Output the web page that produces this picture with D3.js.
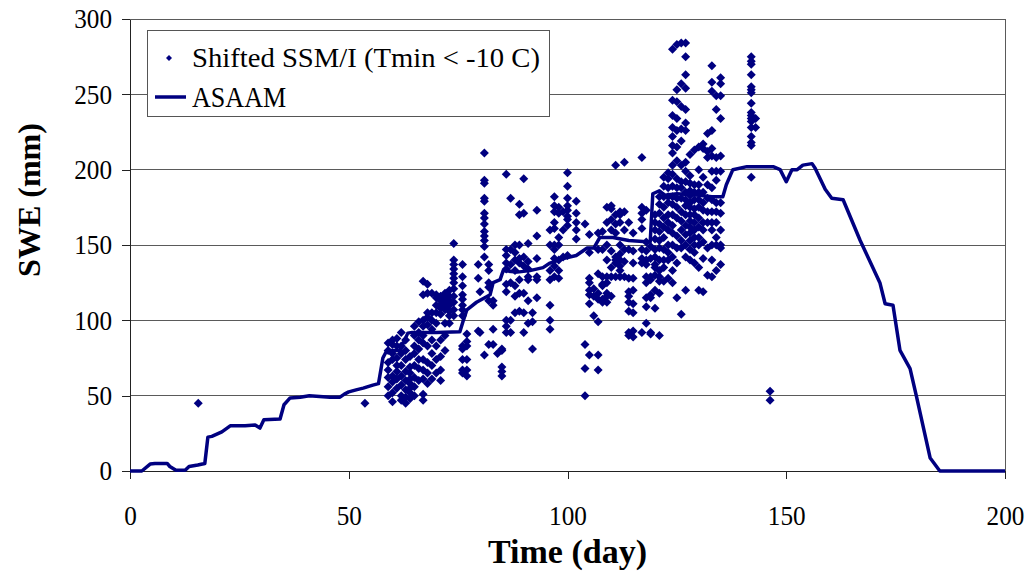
<!DOCTYPE html>
<html><head><meta charset="utf-8">
<script src="https://cdn.jsdelivr.net/npm/d3@7"></script>
<style>body{margin:0;background:#fff}svg{display:block}</style>
</head><body><svg id="c" width="1033" height="578"></svg>
<script>
const xTicks=[0,50,100,150,200];
const yTicks=[0,50,100,150,200,250,300];
const xTitle="Time (day)", yTitle="SWE (mm)";
const legendLabels=["Shifted SSM/I (Tmin < -10  C)","ASAAM"];

const asaamDays=[0,2.7,4.6,5.7,8.5,9.1,10.5,12.6,13.5,15.5,17.1,17.8,18.7,21,22.9,26.3,28.6,29.7,30.6,34.3,35.2,36.6,38.9,41,45.7,48,49,50,51.9,53.3,55.5,56.8,57.8,58.7,61.7,63.5,64.5,70,75.4,76.2,77,79.2,81.5,82.3,83,84.6,85.3,88.5,91.4,94.4,96,99,102,104.5,106,107.4,110.4,114,118.9,119.5,121,122.3,125,130,133,135.5,136.3,137.8,141,147,148.6,150,151.3,152.5,153.8,155.9,156.6,158.9,160.4,163,166.9,171.4,172.6,174.4,176,178.3,179.8,182.9,185.1,200];
const asaamSwe=[0,0,4.6,5,5,3,0.5,0.5,3,4,5,22.5,23,26,30,30,30.5,28.5,34,34.5,44,48.5,49,50,49,49,51,52.5,54,55,57,58,75,80,80,91.5,92,92,92.4,100,107,112,115.7,117,125,127,133,132,133,135,138,141,143,148,148,155,155,153,152,184,186,183,184,183,182,182,190,200,202,202,200,192,200,200,203,204,201,187,181,180,153,125,111,110,80,68,49,8.6,0,0];

const ssmiDays=[15.6,53.7,59,60,61,62,63,64,65,66,67,68,69,70,71,72,73,74,76,77,79.6,80,81,82,83,84,85,86,87,88,89,90,91,92,93,96,97,98,99,100,102,104,105,106,107,108,109,110,111,112,113,114,115,117,118,119,120,121,122,123,124,125,126,127,128,129,130,131,132,133,134,135,142,143,146.3];
const ssmiSwe=[
[45],[45],
[50,56,62,67,72,80,85],
[46,52,59,63,74,78,84,87],
[55,61,66,70,75,83,88],
[47,50,57,63,70,78,83,92],
[45,49,54,60,66,74,80,87],
[48,52,55,58,61,65,69,76],
[50,56,62,70,78,83,90,96],
[60,68,74,81,87,92,99],
[47,51,61,67,74,85,90,96,100,117,126],
[58,65,72,83,97,102,105,118,124],
[61,70,78,87,94,100,105,118],
[65,74,83,98,105,110,115,117],
[60,67,76,87,104,108,110,113,116],
[80,90,98,107,109,112,114,116,118],
[98,103,106,110,113,116,120],
[103,107,112,116,121,125,128,131,134,137,140,151],
[65,67,74,81,83,103,107,110,114,117,123,129,137],
[63,67,74,83,86,91],
[93,128,137],
[92,119],
[77,142,149,153,156,159,164,168,171,179,181,191,193,211],
[84,113,122,125,133,137],
[84,94,110,113],
[78],
[63,66,69,80,81],
[92,96,100,119,124,134,138,143,147,197],
[92,100,125,137,147,181],
[105,116,123,133,140,145,150],
[106,118,127,138,141,150,170,177],
[92,105,118,136,142,171,194],
[98,113,127,129,134,139,151],
[81,99,105],
[115,127,129,141,156,173],
[94,100,110,127,133,150,160],
[129,136,141,147,150,161,165,172,176,182],
[128,133,140,150,155,171,175],
[142,160,172],
[143,163,167,169,173,176,181,189,198],
[154,160,165,171,179],
[50,68,84,164],
[77,111,117,120,125,128,145,157],
[103,116,121],
[67,77,99,114,118,131,147,158],
[112,114,123,124,129,147,159],
[112,116,118,125,129,140,150,165,175],
[116,129,135,146,160,167,174,176],
[129,138,140,142,158,164,170,203],
[129,133,136,140,144,150,165,170,172],
[129,139,147,160,172,205],
[90,92,106,112,116,119,128,147,165],
[89,93,105,111,120,128,138,146,158],
[92,138,141,147,161,167,171,175,208],
[98,109,115,125,129,137,140,146,152,173],
[91,92,115,117,127,129,141,149],
[108,120,130,135,137,142,147,154,160,165,170],
[90,118,126,129,133,140,148,153,159,164,171,177,182],
[126,135,140,147,155,162,168,175,182,189,195],
[128,140,145,150,160,165,170,178,182,188,194,198],
[125,133,142,150,158,163,170,177,182,189,197,203,211,216,222,228,236,246,280],
[115,138,148,156,168,175,181,188,194,206,215,226,234,245,253,283],
[104,148,153,160,166,172,181,188,192,203,219,227,242,257,284],
[120,142,150,157,163,170,176,180,185,192,199,205,226,231,240,254,263,275,284],
[140,147,153,158,162,166,170,175,178,183,186,191,196,210],
[138,145,150,155,160,165,170,174,180,185,190,213],
[120,135,150,155,162,168,175,180,185,190,200,215],
[119,141,152,160,165,173,178,185,195,214,217],
[130,148,165,172,181,190,208,212,224],
[129,140,150,160,165,172,180,188,199,209,214,226,252,258,269],
[133,150,155,165,172,178,193,199,208,240,249],
[137,148,150,160,171,178,199,209,234,249,257,261],
[195,216,218,222,228,232,234,236,238,244,251,253,255,263,270,272,275],
[228,234],
[47,53]
];

const svg=d3.select("#c");
const x=d3.scaleLinear().domain([0,200]).range([130,1005]);
const y=d3.scaleLinear().domain([0,300]).range([471,19]);
const navy="#000080";
const SX=0.9;
const serif="'Liberation Serif', 'Times New Roman', serif";

// gridlines
svg.append("g").attr("shape-rendering","crispEdges").selectAll("line")
  .data(yTicks.filter(d=>d>0)).join("line")
  .attr("x1",x(0)).attr("x2",x(200)).attr("y1",d=>y(d)).attr("y2",d=>y(d))
  .attr("stroke","#5a5a5a").attr("stroke-width",1);
svg.append("line").attr("shape-rendering","crispEdges")
  .attr("x1",x(200)).attr("x2",x(200)).attr("y1",y(300)).attr("y2",y(0))
  .attr("stroke","#5a5a5a");

// axes
const xa=svg.append("g").attr("transform",`translate(0,${y(0)})`)
  .call(d3.axisBottom(x).tickValues(xTicks).tickSize(8).tickSizeOuter(0).tickPadding(26).tickFormat(d3.format("d")));
const ya=svg.append("g").attr("transform",`translate(${x(0)},0)`)
  .call(d3.axisLeft(y).tickValues(yTicks).tickSize(8).tickSizeOuter(0).tickPadding(10).tickFormat(d3.format("d")));
[xa,ya].forEach(a=>{
  a.attr("font-family",null).attr("font-size",null);
  a.select(".domain").attr("stroke","#222").attr("shape-rendering","crispEdges");
  a.selectAll(".tick line").attr("stroke","#222").attr("shape-rendering","crispEdges");
  a.selectAll("text").style("font-family",serif).style("font-size","28px").attr("fill","#000")
   .attr("transform",`scale(${SX},1)`);
});
ya.selectAll("text").attr("x",-18/SX);

// ASAAM line
const line=d3.line().x(d=>x(d[0])).y(d=>y(d[1]));
svg.append("path").datum(d3.zip(asaamDays,asaamSwe)).attr("d",line)
  .attr("fill","none").attr("stroke",navy).attr("stroke-width",3.5).attr("stroke-linejoin","round");

// SSM/I points
const pts=[];
ssmiDays.forEach((d,i)=>ssmiSwe[i].forEach(v=>pts.push([d,v])));
const diamond="M0,-4.5L4.5,0L0,4.5L-4.5,0Z";
svg.append("g").selectAll("path").data(pts).join("path")
  .attr("d",diamond).attr("transform",d=>`translate(${x(d[0])},${y(d[1])})`).attr("fill",navy);

// titles
svg.append("text").attr("x",(x(0)+x(200))/2).attr("y",563)
  .attr("text-anchor","middle").style("font-family",serif).style("font-weight","bold").style("font-size","34px").text(xTitle);
svg.append("text").attr("transform",`translate(40,200) rotate(-90)`)
  .attr("text-anchor","middle").style("font-family",serif).style("font-weight","bold").style("font-size","32px").text(yTitle);

// legend
const lg=svg.append("g");
lg.append("rect").attr("x",147.5).attr("y",30.5).attr("width",402).attr("height",86)
  .attr("fill","#fff").attr("stroke","#555").attr("stroke-width",1);
lg.append("path").attr("d","M0,-3L3,0L0,3L-3,0Z").attr("transform","translate(169,58)").attr("fill",navy);
lg.append("text").attr("x",192).attr("y",67).style("font-family",serif).style("font-size","28px")
  .attr("textLength",348).attr("lengthAdjust","spacingAndGlyphs").text(legendLabels[0]);
lg.append("line").attr("x1",155).attr("x2",186).attr("y1",97).attr("y2",97).attr("stroke",navy).attr("stroke-width",3.5);
lg.append("text").attr("transform",`translate(192,107) scale(${SX},1)`).style("font-family",serif).style("font-size","29px").text(legendLabels[1]);
</script></body></html>
